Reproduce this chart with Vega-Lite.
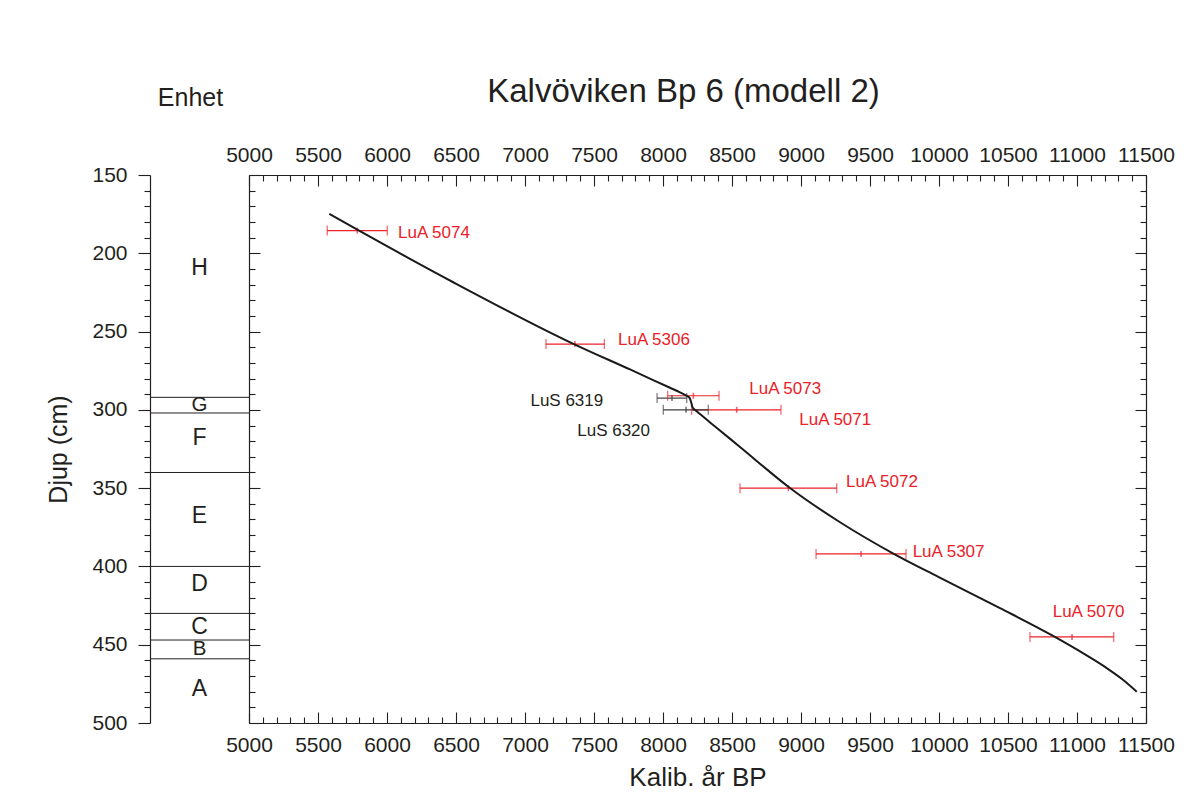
{
  "$schema": "https://vega.github.io/schema/vega-lite/v6.json",
  "background": "white",
  "padding": {"left": 46, "top": 76, "right": 5, "bottom": 5},
  "bounds": "flush",
  "config": {
    "view": {"stroke": null},
    "font": "Liberation Sans",
    "axis": {
      "grid": false,
      "domainColor": "#231f20",
      "tickColor": "#231f20",
      "labelColor": "#231f20",
      "titleColor": "#231f20",
      "domainWidth": 1.2,
      "tickWidth": 1.1,
      "labelFont": "Liberation Sans Narrow, Liberation Sans",
      "labelFontSize": 21,
      "labelOverlap": false,
      "labelFlush": false,
      "labelBound": false,
      "titleFont": "Liberation Sans",
      "titleFontWeight": "normal",
      "titleFontSize": 26
    },
    "title": {"font": "Liberation Sans", "fontWeight": "normal", "color": "#231f20"}
  },
  "datasets": {
    "curve": [
      {"age": 5582, "depth": 174.9},
      {"age": 5788, "depth": 185.1},
      {"age": 6480, "depth": 218.5},
      {"age": 7362, "depth": 258.3},
      {"age": 7761, "depth": 274.2},
      {"age": 8051, "depth": 285.9},
      {"age": 8123, "depth": 288.8},
      {"age": 8159, "depth": 290.4},
      {"age": 8181, "depth": 291.5},
      {"age": 8194, "depth": 292.6},
      {"age": 8201, "depth": 294.2},
      {"age": 8207, "depth": 296.1},
      {"age": 8212, "depth": 297.9},
      {"age": 8221, "depth": 299.2},
      {"age": 8239, "depth": 300.5},
      {"age": 8268, "depth": 302.7},
      {"age": 8377, "depth": 310.6},
      {"age": 8558, "depth": 323.7},
      {"age": 8920, "depth": 349.9},
      {"age": 9283, "depth": 371.8},
      {"age": 9669, "depth": 391.8},
      {"age": 9995, "depth": 406.7},
      {"age": 10442, "depth": 426.6},
      {"age": 10817, "depth": 443.9},
      {"age": 11022, "depth": 454.3},
      {"age": 11203, "depth": 464.2},
      {"age": 11326, "depth": 471.9},
      {"age": 11433, "depth": 480.0}
    ],
    "dates": [
      {"lab": "LuA 5074", "system": "LuA", "age": 5785, "lo": 5567, "hi": 6002, "depth": 185.5, "lx": 6080, "ly": 187},
      {"lab": "LuA 5306", "system": "LuA", "age": 7362, "lo": 7152, "hi": 7575, "depth": 258, "lx": 7674, "ly": 255.7},
      {"lab": "LuA 5073", "system": "LuA", "age": 8220, "lo": 8034, "hi": 8406, "depth": 291, "lx": 8625, "ly": 286.5},
      {"lab": "LuA 5071", "system": "LuA", "age": 8534, "lo": 8208, "hi": 8855, "depth": 300, "lx": 8988, "ly": 306.3},
      {"lab": "LuA 5072", "system": "LuA", "age": 8908, "lo": 8558, "hi": 9259, "depth": 350, "lx": 9326, "ly": 345.9},
      {"lab": "LuA 5307", "system": "LuA", "age": 9435, "lo": 9109, "hi": 9761, "depth": 392, "lx": 9809, "ly": 390.7},
      {"lab": "LuA 5070", "system": "LuA", "age": 10964, "lo": 10659, "hi": 11266, "depth": 445, "lx": 10824, "ly": 429.3},
      {"lab": "LuS 6319", "system": "LuS", "age": 8065, "lo": 7957, "hi": 8172, "depth": 292.5, "lx": 7567, "ly": 294.6},
      {"lab": "LuS 6320", "system": "LuS", "age": 8167, "lo": 8002, "hi": 8328, "depth": 300, "lx": 7906, "ly": 313.8}
    ],
    "boundaries": [
      {"depth": 292}, {"depth": 302}, {"depth": 340}, {"depth": 400},
      {"depth": 430}, {"depth": 447}, {"depth": 459}
    ],
    "units": [
      {"unit": "H", "depth": 209.1},
      {"unit": "G", "depth": 296.8},
      {"unit": "F", "depth": 318.1},
      {"unit": "E", "depth": 368},
      {"unit": "D", "depth": 411.4},
      {"unit": "C", "depth": 438.6},
      {"unit": "B", "depth": 453},
      {"unit": "A", "depth": 478.1}
    ]
  },
  "spacing": 0,
  "hconcat": [
    {
      "width": 99,
      "height": 548,
      "title": {"text": "Enhet", "fontSize": 25, "frame": "group", "anchor": "middle", "dx": -9, "offset": 53},
      "layer": [
        {
          "data": {"name": "units"},
          "transform": [{"filter": "datum.unit !== 'G' && datum.unit !== 'B'"}],
          "mark": {"type": "text", "fontSize": 23, "color": "#231f20", "baseline": "middle", "align": "center"},
          "encoding": {
            "y": {
              "field": "depth", "type": "quantitative",
              "scale": {"domain": [150, 500], "reverse": true, "nice": false, "zero": false},
              "axis": {
                "orient": "left",
                "values": [150,160,170,180,190,200,210,220,230,240,250,260,270,280,290,300,310,320,330,340,350,360,370,380,390,400,410,420,430,440,450,460,470,480,490,500],
                "tickSize": {"condition": {"test": "datum.value % 50 === 0", "value": 12}, "value": 6},
                "labelExpr": "datum.value % 50 === 0 ? datum.label : ''",
                "format": "d",
                "labelPadding": 11,
                "title": "Djup (cm)",
                "titleFontSize": 25,
                "titlePadding": 20
              }
            },
            "text": {"field": "unit"}
          }
        },
        {
          "data": {"name": "units"},
          "transform": [{"filter": "datum.unit === 'G' || datum.unit === 'B'"}],
          "mark": {"type": "text", "fontSize": 20.5, "color": "#231f20", "baseline": "middle", "align": "center"},
          "encoding": {
            "y": {
              "field": "depth", "type": "quantitative",
              "scale": {"domain": [150, 500], "reverse": true, "nice": false, "zero": false},
              "axis": {
                "orient": "left",
                "values": [150,160,170,180,190,200,210,220,230,240,250,260,270,280,290,300,310,320,330,340,350,360,370,380,390,400,410,420,430,440,450,460,470,480,490,500],
                "tickSize": {"condition": {"test": "datum.value % 50 === 0", "value": 12}, "value": 6},
                "labelExpr": "datum.value % 50 === 0 ? datum.label : ''",
                "format": "d",
                "labelPadding": 11,
                "title": "Djup (cm)",
                "titleFontSize": 25,
                "titlePadding": 20
              }
            },
            "text": {"field": "unit"}
          }
        },
        {
          "data": {"name": "boundaries"},
          "mark": {"type": "rule", "color": "#231f20", "strokeWidth": 1},
          "encoding": {
            "y": {
              "field": "depth", "type": "quantitative",
              "scale": {"domain": [150, 500], "reverse": true, "nice": false, "zero": false},
              "axis": {
                "orient": "left",
                "values": [150,160,170,180,190,200,210,220,230,240,250,260,270,280,290,300,310,320,330,340,350,360,370,380,390,400,410,420,430,440,450,460,470,480,490,500],
                "tickSize": {"condition": {"test": "datum.value % 50 === 0", "value": 12}, "value": 6},
                "labelExpr": "datum.value % 50 === 0 ? datum.label : ''",
                "format": "d",
                "labelPadding": 11,
                "title": "Djup (cm)",
                "titleFontSize": 25,
                "titlePadding": 20
              }
            }
          }
        }
      ]
    },
    {
      "width": 897,
      "height": 548,
      "title": {"text": "Kalvöviken Bp 6 (modell 2)", "fontSize": 33, "frame": "group", "anchor": "middle", "dx": -14, "offset": 30},
      "resolve": {"axis": {"x": "independent", "y": "independent"}},
      "layer": [
        {
          "data": {"name": "dates"},
          "mark": {"type": "rule", "strokeWidth": 1.2},
          "encoding": {
            "x": {
              "field": "lo", "type": "quantitative",
              "scale": {"domain": [5000, 11500], "nice": false, "zero": false},
              "axis": {
                "orient": "top",
                "values": [5000,5100,5200,5300,5400,5500,5600,5700,5800,5900,6000,6100,6200,6300,6400,6500,6600,6700,6800,6900,7000,7100,7200,7300,7400,7500,7600,7700,7800,7900,8000,8100,8200,8300,8400,8500,8600,8700,8800,8900,9000,9100,9200,9300,9400,9500,9600,9700,9800,9900,10000,10100,10200,10300,10400,10500,10600,10700,10800,10900,11000,11100,11200,11300,11400,11500],
                "tickSize": {"condition": {"test": "datum.value % 500 === 0", "value": -11}, "value": -6},
                "labelExpr": "datum.value % 500 === 0 ? datum.label : ''",
                "format": "d",
                "labelPadding": 21,
                "title": null
              }
            },
            "x2": {"field": "hi"},
            "y": {
              "field": "depth", "type": "quantitative",
              "scale": {"domain": [150, 500], "reverse": true, "nice": false, "zero": false},
              "axis": {
                "orient": "right",
                "values": [150,160,170,180,190,200,210,220,230,240,250,260,270,280,290,300,310,320,330,340,350,360,370,380,390,400,410,420,430,440,450,460,470,480,490,500],
                "tickSize": {"condition": {"test": "datum.value % 50 === 0", "value": -11}, "value": -6},
                "labels": false,
                "title": null
              }
            },
            "color": {"field": "system", "type": "nominal", "scale": {"domain": ["LuA", "LuS"], "range": ["#ec2027", "#3d3d3d"]}, "legend": null}
          }
        },
        {
          "data": {"name": "dates"},
          "mark": {"type": "tick", "orient": "vertical", "size": 10, "thickness": 1.2},
          "encoding": {
            "x": {"field": "lo", "type": "quantitative", "scale": {"domain": [5000, 11500], "nice": false, "zero": false}, "axis": null},
            "y": {"field": "depth", "type": "quantitative", "scale": {"domain": [150, 500], "reverse": true, "nice": false, "zero": false}, "axis": null},
            "color": {"field": "system", "type": "nominal", "scale": {"domain": ["LuA", "LuS"], "range": ["#ec2027", "#3d3d3d"]}, "legend": null}
          }
        },
        {
          "data": {"name": "dates"},
          "mark": {"type": "tick", "orient": "vertical", "size": 10, "thickness": 1.2},
          "encoding": {
            "x": {"field": "hi", "type": "quantitative", "scale": {"domain": [5000, 11500], "nice": false, "zero": false}, "axis": null},
            "y": {"field": "depth", "type": "quantitative", "scale": {"domain": [150, 500], "reverse": true, "nice": false, "zero": false}, "axis": null},
            "color": {"field": "system", "type": "nominal", "scale": {"domain": ["LuA", "LuS"], "range": ["#ec2027", "#3d3d3d"]}, "legend": null}
          }
        },
        {
          "data": {"name": "dates"},
          "mark": {"type": "tick", "orient": "vertical", "size": 6, "thickness": 1.6},
          "encoding": {
            "x": {"field": "age", "type": "quantitative", "scale": {"domain": [5000, 11500], "nice": false, "zero": false}, "axis": null},
            "y": {"field": "depth", "type": "quantitative", "scale": {"domain": [150, 500], "reverse": true, "nice": false, "zero": false}, "axis": null},
            "color": {"field": "system", "type": "nominal", "scale": {"domain": ["LuA", "LuS"], "range": ["#ec2027", "#3d3d3d"]}, "legend": null}
          }
        },
        {
          "data": {"name": "curve"},
          "mark": {"type": "line", "color": "#1a1a1a", "strokeWidth": 2, "interpolate": "monotone"},
          "encoding": {
            "x": {
              "field": "age", "type": "quantitative",
              "scale": {"domain": [5000, 11500], "nice": false, "zero": false},
              "axis": {
                "orient": "bottom",
                "values": [5000,5100,5200,5300,5400,5500,5600,5700,5800,5900,6000,6100,6200,6300,6400,6500,6600,6700,6800,6900,7000,7100,7200,7300,7400,7500,7600,7700,7800,7900,8000,8100,8200,8300,8400,8500,8600,8700,8800,8900,9000,9100,9200,9300,9400,9500,9600,9700,9800,9900,10000,10100,10200,10300,10400,10500,10600,10700,10800,10900,11000,11100,11200,11300,11400,11500],
                "tickSize": {"condition": {"test": "datum.value % 500 === 0", "value": -11}, "value": -6},
                "labelExpr": "datum.value % 500 === 0 ? datum.label : ''",
                "format": "d",
                "labelPadding": 22,
                "title": "Kalib. år BP",
                "titlePadding": 4
              }
            },
            "y": {
              "field": "depth", "type": "quantitative",
              "scale": {"domain": [150, 500], "reverse": true, "nice": false, "zero": false},
              "axis": {
                "orient": "left",
                "values": [150,160,170,180,190,200,210,220,230,240,250,260,270,280,290,300,310,320,330,340,350,360,370,380,390,400,410,420,430,440,450,460,470,480,490,500],
                "tickSize": {"condition": {"test": "datum.value % 50 === 0", "value": -11}, "value": -6},
                "labels": false,
                "title": null
              }
            }
          }
        },
        {
          "data": {"name": "dates"},
          "transform": [{"filter": "datum.system === 'LuA'"}],
          "mark": {"type": "text", "align": "left", "baseline": "middle", "fontSize": 17, "color": "#ec2027"},
          "encoding": {
            "x": {"field": "lx", "type": "quantitative", "scale": {"domain": [5000, 11500], "nice": false, "zero": false}, "axis": null},
            "y": {"field": "ly", "type": "quantitative", "scale": {"domain": [150, 500], "reverse": true, "nice": false, "zero": false}, "axis": null},
            "text": {"field": "lab"}
          }
        },
        {
          "data": {"name": "dates"},
          "transform": [{"filter": "datum.system === 'LuS'"}],
          "mark": {"type": "text", "align": "right", "baseline": "middle", "fontSize": 17, "color": "#231f20"},
          "encoding": {
            "x": {"field": "lx", "type": "quantitative", "scale": {"domain": [5000, 11500], "nice": false, "zero": false}, "axis": null},
            "y": {"field": "ly", "type": "quantitative", "scale": {"domain": [150, 500], "reverse": true, "nice": false, "zero": false}, "axis": null},
            "text": {"field": "lab"}
          }
        }
      ]
    }
  ]
}
